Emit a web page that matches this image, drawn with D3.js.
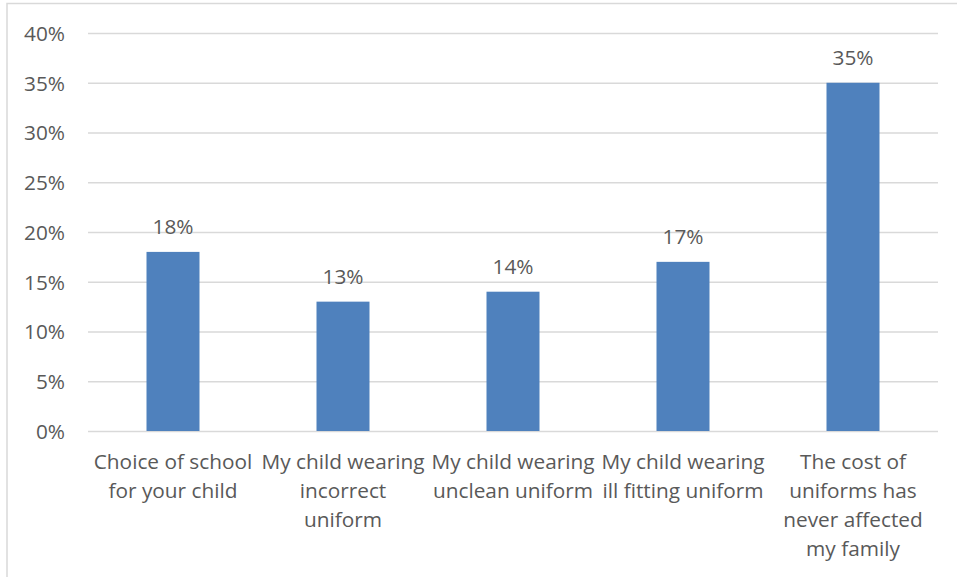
<!DOCTYPE html>
<html><head><meta charset="utf-8">
<script src="https://cdn.jsdelivr.net/npm/d3@7"></script>
<style>
html,body{margin:0;padding:0;background:#fff;}
svg{display:block;}
text{font-family:"Open Sans","Noto Sans",sans-serif;fill:#595959;}
</style></head>
<body>
<svg id="chart" width="957" height="577"></svg>
<script>
const categories = [
  ["Choice of school", "for your child"],
  ["My child wearing", "incorrect", "uniform"],
  ["My child wearing", "unclean uniform"],
  ["My child wearing", "ill fitting uniform"],
  ["The cost of", "uniforms has", "never affected", "my family"]
];
const values = [0.18, 0.13, 0.14, 0.17, 0.35];
const yTicks = [0, 0.05, 0.10, 0.15, 0.20, 0.25, 0.30, 0.35, 0.40];

(function(){
const svg = d3.select("#chart");
const pL = 88, pR = 938, pT = 33, pB = 431;
const fs = 20.8;

svg.append("rect").attr("x", 7).attr("y", 3.5).attr("width", 970).attr("height", 600)
  .attr("fill", "none").attr("stroke", "#d9d9d9").attr("stroke-width", 1.5);

const x = d3.scaleBand().domain(d3.range(categories.length)).range([pL, pR]).padding(0);
const y = d3.scaleLinear().domain([0, 0.40]).range([pB, pT]);

const grid = svg.append("g").attr("transform", `translate(${pL},0)`)
  .call(d3.axisLeft(y).tickValues(yTicks).tickSize(-(pR-pL)).tickFormat(""));
grid.select(".domain").remove();
grid.selectAll("line").attr("stroke", "#d9d9d9").attr("stroke-width", 1.3);

const yAxis = svg.append("g").attr("transform", `translate(65,0)`)
  .call(d3.axisLeft(y).tickValues(yTicks).tickSize(0).tickPadding(0).tickFormat(d3.format(".0%")));
yAxis.select(".domain").remove();
yAxis.selectAll("text").attr("font-size", fs).attr("fill", "#595959")
  .attr("font-family", '"Open Sans","Noto Sans",sans-serif').attr("dy", "0.35em");

const bw = 53;
svg.append("g").selectAll("rect").data(values).join("rect")
  .attr("x", (d, i) => x(i) + x.bandwidth()/2 - bw/2)
  .attr("y", d => y(d))
  .attr("width", bw)
  .attr("height", d => y(0) - y(d))
  .attr("fill", "#4f81bd");

svg.append("g").selectAll("text").data(values).join("text")
  .attr("x", (d, i) => x(i) + x.bandwidth()/2)
  .attr("y", d => y(d) - 18)
  .attr("text-anchor", "middle")
  .attr("font-size", fs)
  .text(d => d3.format(".0%")(d));

const xl = svg.append("g").selectAll("text").data(categories).join("text")
  .attr("x", (d, i) => x(i) + x.bandwidth()/2)
  .attr("y", 469)
  .attr("text-anchor", "middle")
  .attr("font-size", fs);
xl.selectAll("tspan").data(d => d).join("tspan")
  .attr("x", function(){ return this.parentNode.getAttribute("x"); })
  .attr("dy", (d, i) => i === 0 ? 0 : 29)
  .text(d => d);
})();
</script>
</body></html>
